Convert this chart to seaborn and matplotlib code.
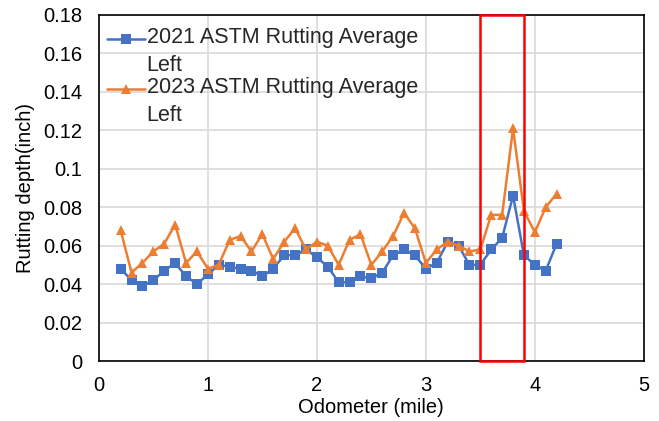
import matplotlib
matplotlib.use("Agg")
import matplotlib.pyplot as plt
import matplotlib.patches as patches
from matplotlib.legend_handler import HandlerLine2D
from matplotlib.lines import Line2D
from matplotlib.ticker import FuncFormatter, MultipleLocator
import numpy as np
import pandas as pd
import seaborn as sns

# Data
odometer = [0.2, 0.3, 0.4, 0.5, 0.6, 0.7, 0.8, 0.9, 1.0, 1.1,
            1.2, 1.3, 1.4, 1.5, 1.6, 1.7, 1.8, 1.9, 2.0, 2.1,
            2.2, 2.3, 2.4, 2.5, 2.6, 2.7, 2.8, 2.9, 3.0, 3.1,
            3.2, 3.3, 3.4, 3.5, 3.6, 3.7, 3.8, 3.9, 4.0, 4.1, 4.2]
rut_2021 = [0.048, 0.042, 0.039, 0.042, 0.047, 0.051, 0.044, 0.040, 0.045, 0.050,
            0.049, 0.048, 0.047, 0.044, 0.048, 0.055, 0.055, 0.058, 0.054, 0.049,
            0.041, 0.041, 0.044, 0.043, 0.046, 0.055, 0.058, 0.055, 0.048, 0.051,
            0.062, 0.060, 0.050, 0.050, 0.058, 0.064, 0.086, 0.055, 0.050, 0.047, 0.061]
rut_2023 = [0.068, 0.046, 0.051, 0.057, 0.061, 0.071, 0.051, 0.057, 0.048, 0.050,
            0.063, 0.065, 0.057, 0.066, 0.053, 0.062, 0.069, 0.058, 0.062, 0.060,
            0.050, 0.063, 0.066, 0.050, 0.057, 0.065, 0.077, 0.069, 0.051, 0.058,
            0.062, 0.060, 0.057, 0.058, 0.076, 0.076, 0.121, 0.078, 0.067, 0.080, 0.087]
series_names = ["2021 ASTM Rutting Average\nLeft", "2023 ASTM Rutting Average\nLeft"]
highlight = (3.5, 3.9)  # mile range boxed in red

df = pd.DataFrame({
    "Odometer": odometer * 2,
    "Rutting": rut_2021 + rut_2023,
    "Series": [series_names[0]] * len(odometer) + [series_names[1]] * len(odometer),
})


class FirstLineHandler(HandlerLine2D):
    # put the legend handle next to the first line of a two-line label
    def create_artists(self, legend, orig_handle, xdescent, ydescent,
                       width, height, fontsize, trans):
        return super().create_artists(legend, orig_handle, xdescent,
                                      ydescent - 19, width, height, fontsize, trans)


sns.set_theme(style="whitegrid")
plt.rcParams["font.family"] = ["Liberation Sans", "DejaVu Sans"]

fig = plt.figure(figsize=(6.59, 4.21), dpi=100)
ax = fig.add_axes([0.150, 0.1425, 0.827, 0.822])

palette = {series_names[0]: "#4472C4", series_names[1]: "#ED7D31"}
markers = {series_names[0]: "s", series_names[1]: "^"}
sns.lineplot(
    data=df, x="Odometer", y="Rutting", hue="Series", style="Series",
    palette=palette, markers=markers, dashes=False, linewidth=1.8,
    markersize=7, markeredgewidth=0, ax=ax,
)

# red box around the peak
rect = patches.Rectangle((highlight[0], 0), highlight[1] - highlight[0], 0.18,
                         fill=False, edgecolor="#FF0000", linewidth=1.8,
                         zorder=5, clip_on=False)
ax.add_patch(rect)

ax.set_xlim(0, 5)
ax.set_ylim(0, 0.18)
ax.xaxis.set_major_locator(MultipleLocator(1))
ax.yaxis.set_major_locator(MultipleLocator(0.02))
ax.yaxis.set_major_formatter(FuncFormatter(lambda v, p: f"{round(v, 2):g}"))
ax.tick_params(axis="both", labelsize=14.5, colors="black", length=0)
ax.tick_params(axis="x", pad=11)
ax.tick_params(axis="y", pad=12)
ax.grid(True, color="#D9D9D9", linewidth=1.2)
for s in ax.spines.values():
    s.set_color("black")
    s.set_linewidth(1.2)

ax.set_xlabel("Odometer (mile)", fontsize=14.5, color="black", labelpad=2)
ax.set_ylabel("Rutting depth(inch)", fontsize=14.5, color="black", labelpad=6)

leg = ax.legend(loc="upper left", bbox_to_anchor=(-0.007, 1.0), frameon=False,
                fontsize=15.5, handlelength=1.75, handletextpad=0.1,
                labelspacing=0.05, borderaxespad=0.2, borderpad=0.35,
                handler_map={Line2D: FirstLineHandler()})
for t in leg.get_texts():
    t.set_linespacing(1.45)

fig.savefig("out.png", dpi=100)
